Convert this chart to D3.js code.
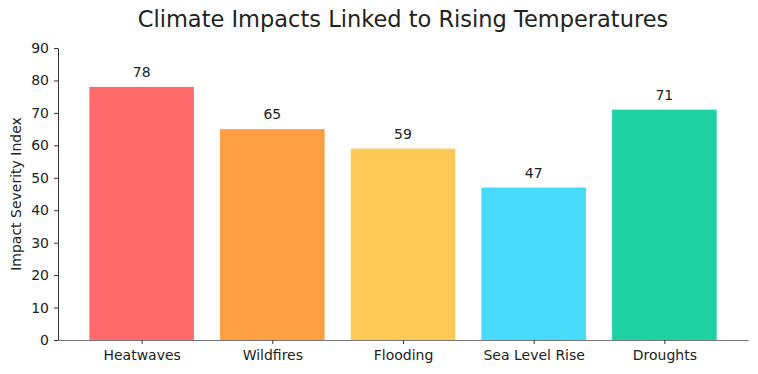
<!DOCTYPE html>
<html>
<head>
    <script src="https://d3js.org/d3.v7.min.js"></script>
    <style>
        body { margin: 0; background: #fff; }
        text { font-family: "DejaVu Sans", sans-serif; fill: #222; }
    </style>
</head>
<body>
    <div id="chart"></div>
    <script>
        const categories = ["Heatwaves", "Wildfires", "Flooding", "Sea Level Rise", "Droughts"];
        const values = [78, 65, 59, 47, 71];
        const colors = ["#FF6B6B", "#FF9F43", "#FECA57", "#48DBFB", "#1DD1A1"];
        const yTicks = [0, 10, 20, 30, 40, 50, 60, 70, 80, 90];

        const W = 758, H = 374;
        const margin = { top: 48, right: 10, bottom: 34, left: 58 },
              width = W - margin.left - margin.right,
              height = H - margin.top - margin.bottom;

        const svg = d3.select("#chart")
            .append("svg")
            .attr("width", W)
            .attr("height", H);

        // Title
        svg.append("text")
            .attr("x", margin.left + width / 2)
            .attr("y", 27)
            .attr("text-anchor", "middle")
            .style("font-size", "22.5px")
            .text("Climate Impacts Linked to Rising Temperatures");

        const g = svg.append("g")
            .attr("transform", `translate(${margin.left},${margin.top})`);

        // x as a continuous index scale, like matplotlib with 5% margins
        const barW = 0.8;
        const x = d3.scaleLinear()
            .domain([-0.64, categories.length - 1 + 0.64])
            .range([0, width]);

        const y = d3.scaleLinear()
            .domain([0, 90])
            .range([height, 0]);

        // Bars
        g.selectAll("rect")
            .data(values)
            .enter().append("rect")
            .attr("x", (d, i) => x(i - barW / 2))
            .attr("y", d => y(d))
            .attr("width", x(barW) - x(0))
            .attr("height", d => height - y(d))
            .attr("fill", (d, i) => colors[i]);

        // Value labels
        g.selectAll(".val")
            .data(values)
            .enter().append("text")
            .attr("class", "val")
            .attr("x", (d, i) => x(i))
            .attr("y", d => y(d) - 10)
            .attr("text-anchor", "middle")
            .style("font-size", "14px")
            .text(d => d);

        // Y axis
        const yAxis = g.append("g")
            .call(d3.axisLeft(y).tickValues(yTicks).tickSize(4).tickPadding(5).tickSizeOuter(0));
        yAxis.select(".domain").attr("stroke", "#333");
        yAxis.selectAll(".tick line").attr("stroke", "#333");
        yAxis.selectAll("text").style("font-size", "14px").style("font-family", "DejaVu Sans").attr("fill", "#222");

        // X axis
        const xAxis = g.append("g")
            .attr("transform", `translate(0,${height})`)
            .call(d3.axisBottom(x).tickValues(d3.range(categories.length))
                .tickFormat(i => categories[i]).tickSize(4).tickPadding(6).tickSizeOuter(0));
        xAxis.select(".domain").attr("stroke", "#777");
        xAxis.selectAll(".tick line").attr("stroke", "#333");
        xAxis.selectAll("text").style("font-size", "14px").style("font-family", "DejaVu Sans").attr("fill", "#222");

        // Y label
        svg.append("text")
            .attr("transform", `translate(21,${margin.top + height / 2}) rotate(-90)`)
            .attr("text-anchor", "middle")
            .style("font-size", "14px")
            .text("Impact Severity Index");
    </script>
</body>
</html>
